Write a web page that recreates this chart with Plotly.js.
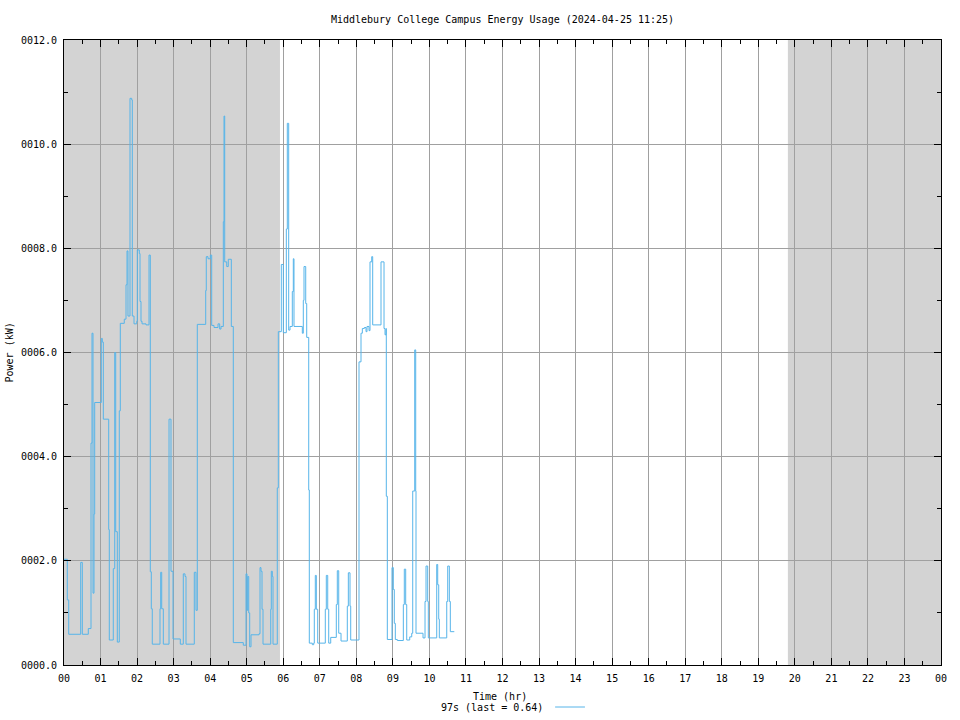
<!DOCTYPE html>
<html>
<head>
<meta charset="utf-8">
<script src="https://cdn.plot.ly/plotly-3.0.1.min.js"></script>
<style>html,body{margin:0;padding:0;background:#fff;}#chart{width:960px;height:720px;}</style>
</head>
<body>
<div id="chart"></div>
<script>
// Time of day (hours) at which each reading starts (step series)
const hours = [
  0.000, 0.090, 0.129, 0.457, 0.501, 0.665, 0.739, 0.766, 0.794, 0.821,
  0.840, 1.021, 1.048, 1.076, 1.223, 1.240, 1.349, 1.388, 1.415, 1.459,
  1.513, 1.541, 1.650, 1.697, 1.724, 1.751, 1.806, 1.853, 1.869, 1.916,
  1.990, 2.006, 2.061, 2.080, 2.107, 2.135, 2.244, 2.326, 2.362, 2.389,
  2.416, 2.627, 2.646, 2.674, 2.718, 2.874, 2.928, 2.983, 3.183, 3.265,
  3.311, 3.339, 3.566, 3.612, 3.648, 3.878, 3.894, 3.941, 4.004, 4.042,
  4.105, 4.215, 4.261, 4.297, 4.360, 4.379, 4.398, 4.453, 4.496, 4.579,
  4.633, 4.907, 4.981, 5.008, 5.027, 5.055, 5.082, 5.118, 5.337, 5.364,
  5.391, 5.419, 5.446, 5.657, 5.673, 5.701, 5.720, 5.837, 5.865, 5.947,
  6.002, 6.084, 6.111, 6.149, 6.185, 6.248, 6.275, 6.294, 6.522, 6.549,
  6.568, 6.615, 6.642, 6.697, 6.713, 6.795, 6.834, 6.850, 6.877, 6.905,
  6.943, 7.151, 7.178, 7.217, 7.244, 7.299, 7.452, 7.479, 7.518, 7.581,
  7.753, 7.781, 7.827, 7.846, 8.073, 8.128, 8.164, 8.219, 8.265, 8.292,
  8.347, 8.374, 8.421, 8.448, 8.675, 8.758, 8.785, 8.812, 8.820, 8.848,
  8.976, 9.012, 9.039, 9.067, 9.121, 9.286, 9.313, 9.351, 9.379, 9.461,
  9.516, 9.543, 9.598, 9.625, 9.633, 9.825, 9.880, 9.907, 9.953, 9.970,
  10.200, 10.227, 10.255, 10.271, 10.474, 10.501, 10.545, 10.572, 10.681
];
// Power readings (kW)
const powerKW = [
  2.03, 1.25, 0.59, 1.97, 0.59, 0.70, 4.26, 6.37, 1.38, 2.90,
  5.04, 6.27, 6.20, 4.72, 2.60, 0.48, 1.85, 6.00, 2.56, 0.44,
  4.88, 6.56, 6.64, 7.30, 7.95, 6.70, 10.88, 10.85, 6.70, 6.55,
  6.60, 7.97, 7.90, 6.98, 6.60, 6.55, 6.53, 7.87, 1.79, 1.08,
  0.40, 1.08, 1.78, 1.08, 0.40, 4.72, 1.80, 0.50, 0.40, 1.75,
  1.70, 0.40, 1.78, 1.05, 6.54, 7.19, 7.84, 7.80, 7.87, 6.52,
  6.48, 6.55, 6.45, 6.50, 8.51, 10.54, 7.74, 7.65, 7.79, 6.50,
  0.43, 0.38, 1.75, 1.05, 1.70, 1.00, 0.35, 0.58, 0.60, 1.87,
  1.80, 1.07, 0.40, 1.07, 1.80, 1.70, 0.40, 3.40, 6.40, 7.69,
  6.38, 8.37, 10.40, 6.43, 6.50, 7.17, 7.80, 6.50, 6.37, 7.00,
  7.65, 6.94, 6.29, 3.36, 0.42, 0.39, 0.42, 1.07, 1.72, 1.07,
  0.42, 1.07, 1.72, 1.07, 0.42, 0.53, 1.16, 1.81, 0.61, 0.46,
  1.13, 1.77, 1.13, 0.48, 5.82, 6.37, 6.46, 6.48, 6.40, 6.50,
  6.42, 7.74, 7.84, 6.53, 7.74, 6.46, 6.34, 6.46, 3.24, 0.49,
  1.87, 1.45, 0.80, 0.49, 0.47, 1.16, 1.84, 1.16, 0.48, 0.54,
  0.61, 3.34, 6.05, 3.34, 0.61, 0.52, 1.22, 1.90, 1.22, 0.52,
  1.93, 1.54, 0.88, 0.52, 1.22, 1.90, 1.22, 0.64, 0.64
];
// Night periods (hours): before sunrise and after sunset
const nightStart = [0, 19.81];
const nightEnd = [5.91, 24];
// X tick labels
const hourTicks = [0,1,2,3,4,5,6,7,8,9,10,11,12,13,14,15,16,17,18,19,20,21,22,23,24];
const hourLabels = ['00','01','02','03','04','05','06','07','08','09','10','11','12',
  '13','14','15','16','17','18','19','20','21','22','23','00'];
const seriesName = '97s (last = 0.64)';
const chartTitle = 'Middlebury College Campus Energy Usage (2024-04-25 11:25)';

const FONT = 'DejaVu Sans Mono, Liberation Mono, monospace';
const lineColor = '#56b4e9';

const shapes = nightStart.map((s, i) => ({
  type: 'rect', xref: 'x', yref: 'paper', x0: s, x1: nightEnd[i], y0: 0, y1: 1,
  fillcolor: '#d3d3d3', line: {width: 0}, layer: 'below'
}));
// legend sample line (gnuplot style, to the right of the text)
shapes.push({type: 'line', xref: 'paper', yref: 'paper', x0: 0.560, x1: 0.594,
  y0: -0.0672, y1: -0.0672, line: {color: lineColor, width: 1}});

const trace = {
  x: hours, y: powerKW, type: 'scatter', mode: 'lines', name: seriesName,
  line: {color: lineColor, width: 1, shape: 'hv'}, showlegend: false, hoverinfo: 'x+y'
};

const axisCommon = {
  showline: true, linecolor: '#000', linewidth: 1, mirror: 'ticks',
  ticks: 'inside', ticklen: 7, tickcolor: '#000', tickwidth: 1,
  showgrid: true, gridcolor: '#a0a0a0', gridwidth: 1, zeroline: false,
  tickfont: {family: FONT, size: 10, color: '#000'}
};

const layout = {
  width: 960, height: 720,
  margin: {l: 64, r: 19, t: 40, b: 55},
  paper_bgcolor: '#fff', plot_bgcolor: '#fff',
  font: {family: FONT, size: 10, color: '#000'},
  title: {text: chartTitle, font: {family: FONT, size: 10, color: '#000'},
    x: 0.5, xref: 'paper', xanchor: 'center', y: 1 - 19/720, yanchor: 'middle', yref: 'container'},
  xaxis: Object.assign({}, axisCommon, {
    range: [0, 24], tickmode: 'array', tickvals: hourTicks, ticktext: hourLabels,
    minor: {tickmode: 'linear', tick0: 0, dtick: 0.5, ticks: 'inside', ticklen: 4,
      tickcolor: '#000', showgrid: false},
    ticklabelstandoff: 4
  }),
  yaxis: Object.assign({}, axisCommon, {
    range: [0, 12], tickmode: 'linear', tick0: 0, dtick: 2, tickformat: '06.1f',
    minor: {tickmode: 'linear', tick0: 0, dtick: 1, ticks: 'inside', ticklen: 4,
      tickcolor: '#000', showgrid: false},
    ticklabelstandoff: 4
  }),
  shapes: shapes,
  annotations: [
    {text: 'Power (kW)', xref: 'paper', yref: 'paper', x: -0.0616, y: 0.5,
      xanchor: 'center', yanchor: 'middle', textangle: -90, showarrow: false,
      font: {family: FONT, size: 10, color: '#000'}},
    {text: 'Time (hr)', xref: 'paper', yref: 'paper', x: 0.497, y: -0.0496,
      xanchor: 'center', yanchor: 'middle', showarrow: false,
      font: {family: FONT, size: 10, color: '#000'}},
    {text: seriesName, xref: 'paper', yref: 'paper', x: 0.549, y: -0.0672,
      xanchor: 'right', yanchor: 'middle', showarrow: false,
      font: {family: FONT, size: 10, color: '#000'}}
  ]
};

Plotly.newPlot('chart', [trace], layout, {displayModeBar: false, staticPlot: true});
</script>
</body>
</html>
